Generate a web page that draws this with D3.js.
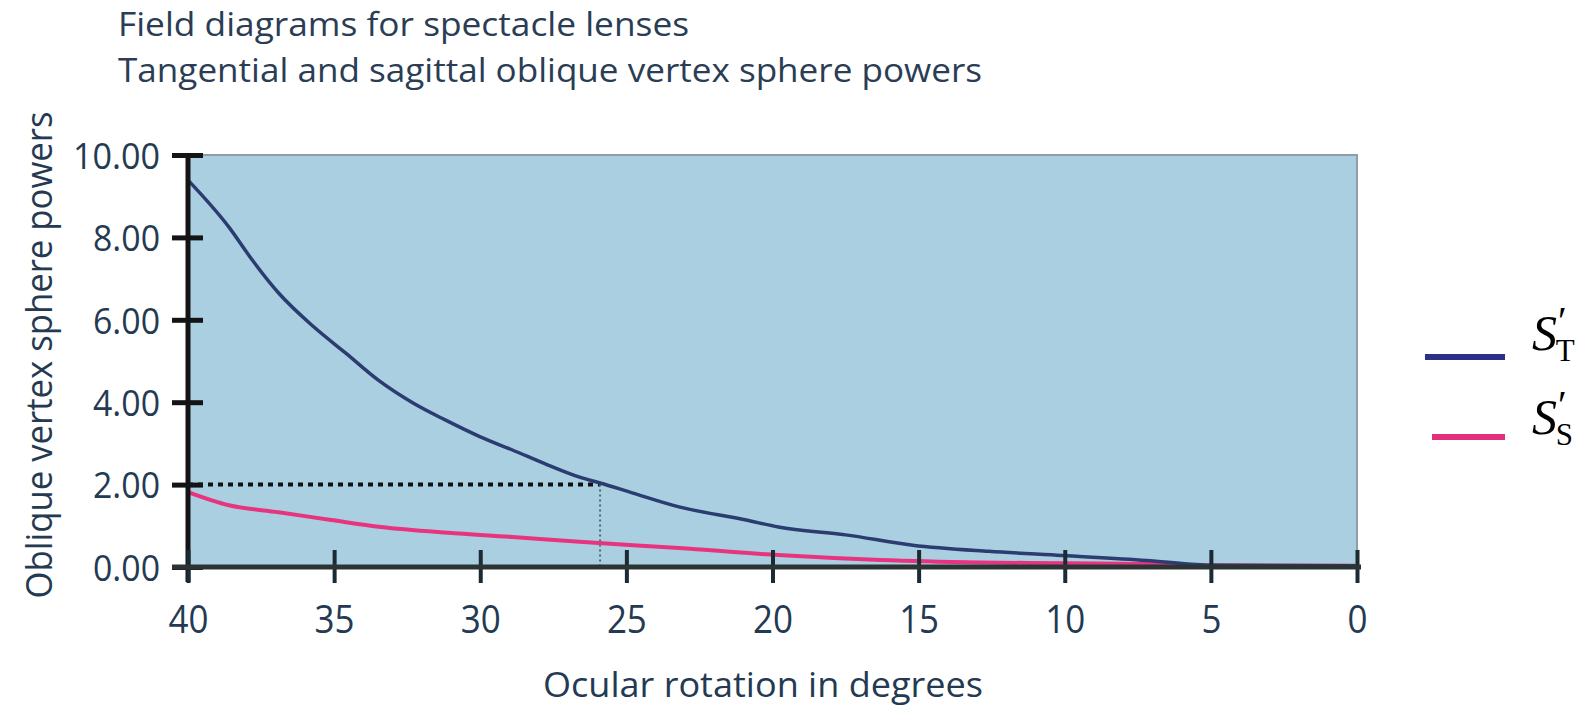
<!DOCTYPE html>
<html>
<head>
<meta charset="utf-8">
<script src="https://cdn.jsdelivr.net/npm/d3@7"></script>
<style>
  html, body { margin: 0; padding: 0; background: #ffffff; }
  svg { display: block; }
</style>
</head>
<body>
<svg id="chart" width="1592" height="709"></svg>
<script>
// ---- Data ----
const titleLines = ["Field diagrams for spectacle lenses", "Tangential and sagittal oblique vertex sphere powers"];
const xAxisTitle = "Ocular rotation in degrees";
const yAxisTitle = "Oblique vertex sphere powers";

const xTicks = [40, 35, 30, 25, 20, 15, 10, 5, 0];
const yTicks = [0, 2, 4, 6, 8, 10];

// Tangential oblique vertex sphere power S'T
const tangentialDeg = [40, 38.6, 37.8, 36.9, 35.7, 34.6, 33.5, 32.3, 31.2, 30, 28.9, 27.7, 26.6, 25.9, 24.8, 23.2, 20.9, 19.8, 17.5, 15.2, 12.6, 10.1, 7.2, 5.5, 5, 0];
const tangentialPow = [9.39, 8.25, 7.45, 6.65, 5.83, 5.19, 4.54, 3.98, 3.57, 3.16, 2.84, 2.48, 2.18, 2.04, 1.80, 1.46, 1.14, 0.97, 0.78, 0.53, 0.38, 0.28, 0.16, 0.06, 0.04, 0.03];

// Sagittal oblique vertex sphere power S'S
const sagittalDeg = [40, 38.6, 36.9, 35.1, 33.4, 31.1, 28.9, 26.6, 23.2, 19.8, 16.3, 12.9, 10, 7.2, 5, 0];
const sagittalPow = [1.82, 1.50, 1.33, 1.14, 0.97, 0.83, 0.73, 0.61, 0.46, 0.29, 0.17, 0.11, 0.09, 0.07, 0.04, 0.03];

// Reference point marked with dotted lines
const markerDeg = 25.9;
const markerPow = 2;

const legendNames = ["T", "S"];

// ---- Layout ----
const svg = d3.select("#chart");
const plot = { left: 188, right: 1357, top: 155, bottom: 567 };
const x = d3.scaleLinear().domain([40, 0]).range([plot.left, plot.right]);
const y = d3.scaleLinear().domain([0, 10]).range([plot.bottom, plot.top]);

const textColor = "#243a52";
const narrowFont = "'Open Sans', 'DejaVu Sans', sans-serif";

// Titles
const titleBaselines = [36, 82];
const titleWidths = [571, 864];
svg.selectAll("text.title").data(titleLines).join("text")
  .attr("class", "title")
  .attr("x", 118)
  .attr("y", (d, i) => titleBaselines[i])
  .attr("textLength", (d, i) => titleWidths[i])
  .attr("lengthAdjust", "spacingAndGlyphs")
  .style("font-family", narrowFont)
  .style("font-size", "33px")
  .style("fill", "#2a3d55")
  .text(d => d);

// Plot background
svg.append("rect")
  .attr("x", plot.left).attr("y", plot.top)
  .attr("width", plot.right - plot.left).attr("height", plot.bottom - plot.top)
  .attr("fill", "#aacfe0")
  .attr("stroke", "#8e9ea6")
  .attr("stroke-width", 2);

// Dotted marker lines
svg.append("line")
  .attr("x1", x(40)).attr("x2", x(markerDeg))
  .attr("y1", y(markerPow)).attr("y2", y(markerPow))
  .attr("stroke", "#111").attr("stroke-width", 4)
  .attr("stroke-dasharray", "5,5");
svg.append("line")
  .attr("x1", x(markerDeg)).attr("x2", x(markerDeg))
  .attr("y1", y(markerPow)).attr("y2", y(0))
  .attr("stroke", "#4d6b6a").attr("stroke-width", 2)
  .attr("stroke-dasharray", "2,3");

// Curves
const lineGen = d3.line().curve(d3.curveMonotoneX);
const tPts = tangentialDeg.map((d, i) => [x(d), y(tangentialPow[i])]);
const sPts = sagittalDeg.map((d, i) => [x(d), y(sagittalPow[i])]);

svg.append("path").attr("d", lineGen(sPts))
  .attr("fill", "none").attr("stroke", "#e8347f").attr("stroke-width", 4);
svg.append("path").attr("d", lineGen(tPts))
  .attr("fill", "none").attr("stroke", "#2a3c70").attr("stroke-width", 3.5);

// Y axis
const yFmt = d3.format(".2f");
const yAxis = d3.axisLeft(y).tickValues(yTicks).tickFormat(yFmt)
  .tickSize(16).tickPadding(12).tickSizeOuter(0);
const gy = svg.append("g").attr("transform", `translate(${plot.left},0)`).call(yAxis);
gy.select(".domain").remove();
gy.selectAll(".tick line").attr("x1", -16).attr("x2", 15)
  .attr("stroke", "#141414").attr("stroke-width", 5);
gy.selectAll(".tick text")
  .style("font-family", narrowFont)
  .style("font-size", "37px")
  .style("fill", textColor)
  .attr("textLength", d => (yFmt(d).length - 1) * 20 + 7)
  .attr("lengthAdjust", "spacingAndGlyphs")
  .attr("dy", "0.36em");
svg.append("line")
  .attr("x1", plot.left).attr("x2", plot.left)
  .attr("y1", plot.top - 2).attr("y2", plot.bottom + 15)
  .attr("stroke", "#141414").attr("stroke-width", 5);

// X axis
const xAxis = d3.axisBottom(x).tickValues(xTicks).tickFormat(d3.format("d"))
  .tickSize(16).tickSizeOuter(0);
const gx = svg.append("g").attr("transform", `translate(0,${plot.bottom})`).call(xAxis);
gx.select(".domain").remove();
gx.selectAll(".tick line").attr("y1", -17).attr("y2", 16)
  .attr("stroke", "#1c2a33").attr("stroke-width", 4);
gx.selectAll(".tick text")
  .attr("y", 66).attr("dy", 0)
  .attr("textLength", d => String(d).length * 20)
  .attr("lengthAdjust", "spacingAndGlyphs")
  .style("font-family", narrowFont)
  .style("font-size", "38px")
  .style("fill", textColor);
svg.append("line")
  .attr("x1", plot.left - 16).attr("x2", plot.right + 4)
  .attr("y1", plot.bottom).attr("y2", plot.bottom)
  .attr("stroke", "#2b3434").attr("stroke-width", 5);

// Axis titles
svg.append("text")
  .attr("x", 763).attr("y", 697)
  .attr("text-anchor", "middle")
  .attr("textLength", 440).attr("lengthAdjust", "spacingAndGlyphs")
  .style("font-family", narrowFont).style("font-size", "35px")
  .style("fill", textColor)
  .text(xAxisTitle);
svg.append("text")
  .attr("transform", "translate(52,355) rotate(-90)")
  .attr("text-anchor", "middle")
  .attr("textLength", 487).attr("lengthAdjust", "spacingAndGlyphs")
  .style("font-family", narrowFont).style("font-size", "36px")
  .style("fill", textColor)
  .text(yAxisTitle);

// Legend
const legendColors = ["#2e2f86", "#e3307d"];
const legendY = [357, 437];
const legendBaseline = [350, 434];
const lg = svg.selectAll("g.legend").data(legendNames).join("g").attr("class", "legend");
lg.append("line")
  .attr("x1", (d, i) => i === 0 ? 1425 : 1432).attr("x2", 1505)
  .attr("y1", (d, i) => legendY[i]).attr("y2", (d, i) => legendY[i])
  .attr("stroke", (d, i) => legendColors[i]).attr("stroke-width", 6);
const lt = lg.append("text")
  .attr("x", 1532).attr("y", (d, i) => legendBaseline[i])
  .style("font-family", "'Liberation Serif', serif")
  .style("fill", "#000");
lt.append("tspan")
  .style("font-style", "italic").style("font-size", "50px")
  .text("S");
lt.append("tspan")
  .attr("dy", -16).attr("dx", 1)
  .style("font-size", "40px")
  .text("′");
lt.append("tspan")
  .attr("dy", 27).attr("dx", -11)
  .style("font-size", "31px")
  .text(d => d);
</script>
</body>
</html>
